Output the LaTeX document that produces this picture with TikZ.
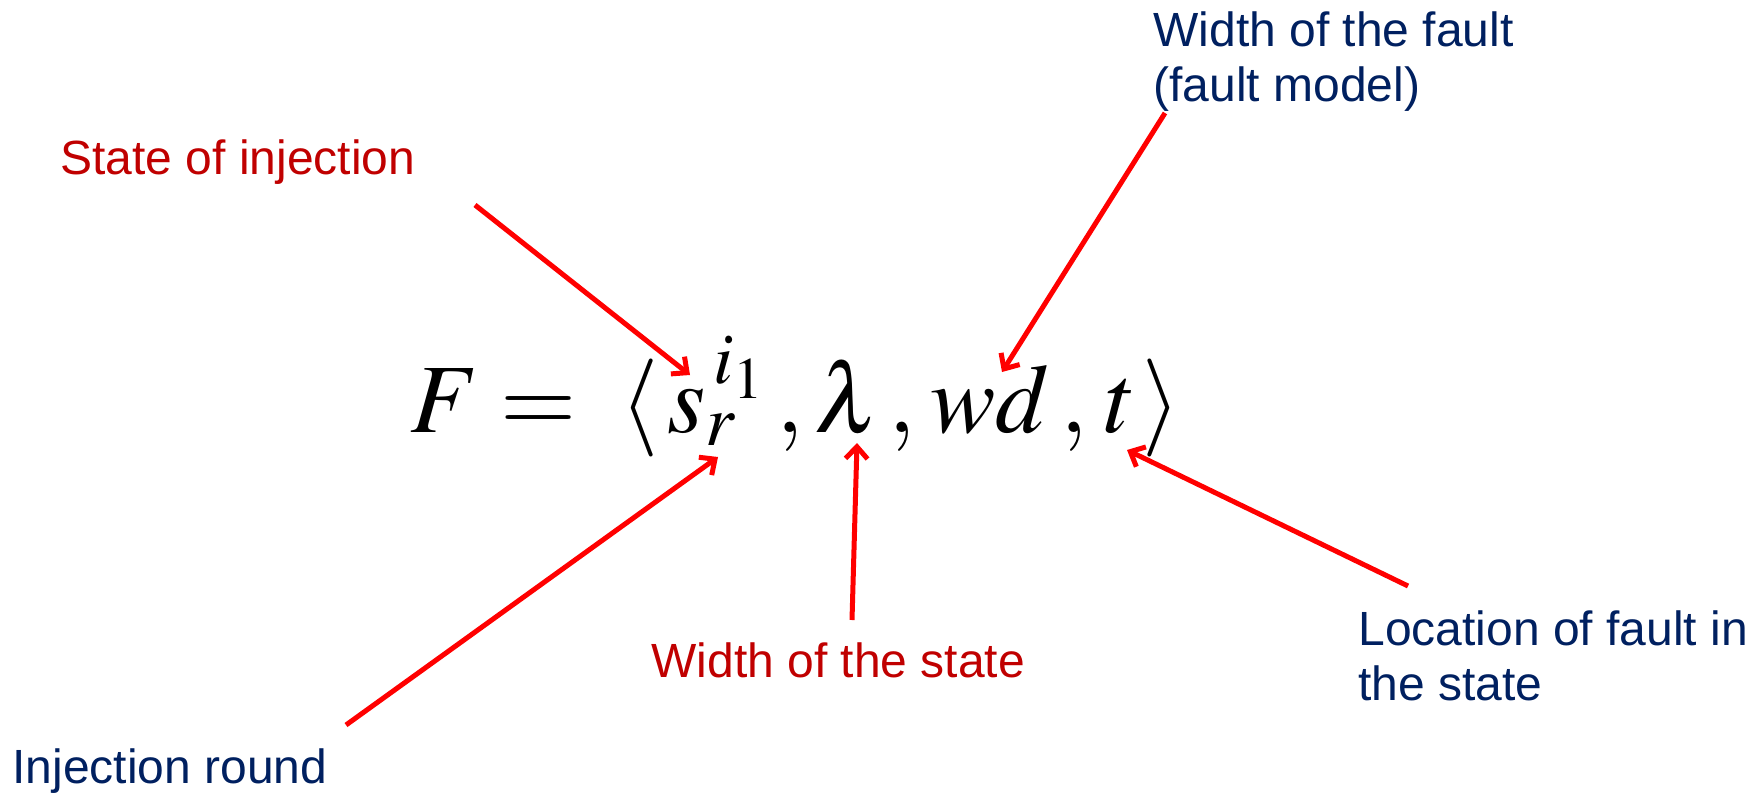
\documentclass[tikz,border=0pt]{standalone}
\usepackage{mathptmx}
\usepackage[no-math]{fontspec}
\setmainfont{Liberation Sans}
\usetikzlibrary{arrows.meta}
\definecolor{labred}{HTML}{C00000}
\definecolor{labblue}{HTML}{002060}
\definecolor{arrred}{HTML}{FF0000}

\begin{document}
\begin{tikzpicture}[x=0.5pt,y=-0.5pt,
  lab/.style={anchor=base west,inner sep=0pt,align=left,
    font=\fontsize{24}{27.5}\selectfont},
  pointer/.style={line width=2.5pt,arrred,
    -{Straight Barb[length=6pt,width=11pt]}}]
  \useasboundingbox (0,0) rectangle (1754,792);

  \node[anchor=base west,inner sep=0pt,font=\fontsize{49}{55}\selectfont]
    (formula) at (410,432) {$F = \hspace{11pt}\langle\hspace{4.5pt}
      s_r^{\hspace{4pt}i_1}\hspace{5.6pt},\lambda\hspace{4pt},\hspace{2pt}wd\hspace{5.6pt},
      \hspace{3pt}t\hspace{3pt}\rangle$};

  \node[lab,labred] (inj) at (60,174) {State of injection};
  \node[lab,labblue] (fw) at (1153,102) {Width of the fault\\(fault model)};
  \node[lab,labred] (sw) at (651,677) {Width of the state};
  \node[lab,labblue] (loc) at (1358,700) {Location of fault in\\the state};
  \node[lab,labblue] (rnd) at (12,783) {Injection round};

  % arrow ends
  \coordinate (injtail) at (475,205);  \coordinate (injtip) at (690,375);
  \coordinate (fwtail) at (1165,113);  \coordinate (fwtip) at (1002,372);
  \coordinate (rndtail) at (346,725);  \coordinate (rndtip) at (718,457);
  \coordinate (swtail) at (852,620);   \coordinate (swtip) at (857,443);
  \coordinate (loctail) at (1408,586); \coordinate (loctip) at (1127,450);

  \foreach \a in {inj,fw,rnd,sw,loc}
  \draw[pointer] (\a tail) -- (\a tip);
\end{tikzpicture}
\end{document}
